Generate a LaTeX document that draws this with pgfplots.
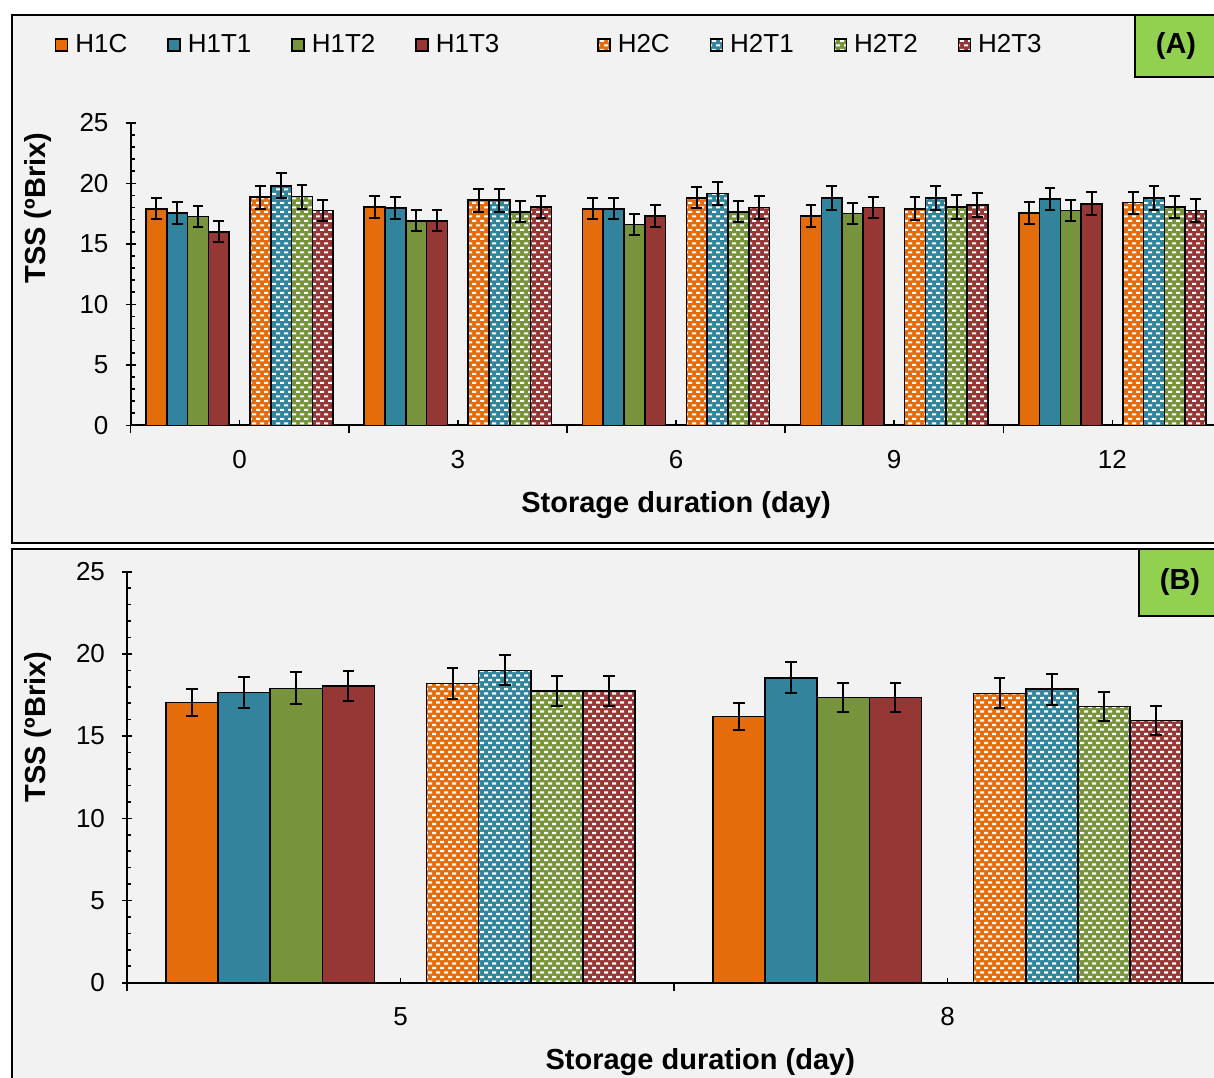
\documentclass[border=0pt]{standalone}
\usepackage{fontspec}
\setmainfont{Liberation Sans}
\usepackage{pgfplots}
\pgfplotsset{compat=1.18}
\usetikzlibrary{patterns}

\definecolor{cO}{HTML}{E46C0A}
\definecolor{cT}{HTML}{31849B}
\definecolor{cG}{HTML}{77933C}
\definecolor{cR}{HTML}{953735}
\definecolor{bg}{HTML}{F2F2F2}
\definecolor{lab}{HTML}{92D050}

\pgfdeclarepatternformonly{dashgrid}{\pgfqpoint{-0.1pt}{-0.1pt}}{\pgfqpoint{4.1pt}{4.6pt}}{\pgfqpoint{4pt}{4.5pt}}{%
  \pgfpathrectangle{\pgfqpoint{0pt}{0pt}}{\pgfqpoint{2.1pt}{1.1pt}}%
  \pgfpathrectangle{\pgfqpoint{2pt}{2.25pt}}{\pgfqpoint{2.1pt}{1.1pt}}%
  \pgfusepath{fill}}

\pgfplotsset{
  tss/.style={
    scale only axis, axis lines*=left,
    ymin=0, ymax=25, ytick={0,5,...,25}, minor y tick num=4,
    tick align=inside, major tick length=2.5pt, minor tick length=2pt,
    every tick/.style={black, line width=0.8pt},
    axis line style={black, line width=1pt},
    extra y ticks={0,5,...,25}, extra y tick labels={},
    extra y tick style={tick align=outside, major tick length=2.5pt},
    extra x tick labels={},
    extra x tick style={tick align=outside, major tick length=4pt},
    /pgf/number format/assume math mode=true,
    ticklabel style={font=\fontsize{13}{15}\selectfont},
    xticklabel style={yshift=-9pt},
    yticklabel style={xshift=-7.5pt},
    label style={font=\bfseries\fontsize{14.5}{17}\selectfont},
    bar width=0.0953,
    error bars/y dir=both, error bars/y explicit,
    error bars/error bar style={line width=1pt, black},
    error bars/error mark options={rotate=90, mark size=2.7pt, line width=1pt, black},
    legend image code/.code={\draw[#1, line width=0.7pt] (0pt,-3pt) rectangle (6pt,3pt);},
  },
  sb/.style={ybar, bar shift=0pt, draw=black, line width=0.8pt, fill=#1},
  pb/.style={ybar, bar shift=0pt, draw=black, line width=0.8pt, fill=#1,
    postaction={pattern=dashgrid, pattern color=white}},
}

\begin{document}
\begin{tikzpicture}
\fill[white] (0pt,0pt) rectangle (607pt,-538.5pt);
\begin{scope}
\clip (0pt,0pt) rectangle (607pt,-538.5pt);
\draw[line width=1.2pt, fill=bg] (6pt,-7.5pt) rectangle (625pt,-271.5pt);
\draw[line width=1.2pt, fill=bg] (6pt,-274.5pt) rectangle (625pt,-560pt);

% ---------------- Panel A ----------------
\begin{axis}[tss,
  at={(65.25pt,-212.65pt)}, anchor=south west,
  width=545.5pt, height=151.25pt,
  xmin=0, xmax=5,
  xtick={0.5,1.5,2.5,3.5,4.5}, xticklabels={0,3,6,9,12},
  extra x ticks={0,1,2,3,4,5},
  xlabel={Storage duration (day)},
  ylabel={TSS (ºBrix)},
  xlabel style={at={(rel axis cs:0.5,-0.264)}, anchor=center},
  ylabel style={at={(rel axis cs:-0.0848,0.718)}, anchor=center},
  legend columns=9,
  legend style={draw=none, fill=none, inner sep=0pt, outer sep=0pt,
    at={(rel axis cs:-0.0692,1.2572)}, anchor=west,
    font=\fontsize{13}{15}\selectfont,
    nodes={inner sep=1pt},
    /tikz/every odd column/.append style={column sep=2.5pt},
    /tikz/every even column/.append style={column sep=19pt}},
]
\addplot[sb=cO] coordinates {(0.1188,17.90) +- (0,0.88) (1.1188,18.05) +- (0,0.88) (2.1188,17.90) +- (0,0.85) (3.1188,17.30) +- (0,0.88) (4.1188,17.55) +- (0,0.88)};
\addlegendentry{H1C}
\addplot[sb=cT] coordinates {(0.2141,17.55) +- (0,0.88) (1.2141,17.95) +- (0,0.88) (2.2141,17.90) +- (0,0.86) (3.2141,18.80) +- (0,0.97) (4.2141,18.70) +- (0,0.94)};
\addlegendentry{H1T1}
\addplot[sb=cG] coordinates {(0.3094,17.25) +- (0,0.86) (1.3094,16.90) +- (0,0.86) (2.3094,16.60) +- (0,0.88) (3.3094,17.50) +- (0,0.90) (4.3094,17.75) +- (0,0.86)};
\addlegendentry{H1T2}
\addplot[sb=cR] coordinates {(0.4047,16.00) +- (0,0.88) (1.4047,16.90) +- (0,0.86) (2.4047,17.30) +- (0,0.88) (3.4047,18.00) +- (0,0.87) (4.4047,18.30) +- (0,0.95)};
\addlegendentry{H1T3}
\addlegendimage{empty legend}
\addlegendentry{\rule{5.5pt}{0pt}}
\addplot[pb=cO] coordinates {(0.5953,18.85) +- (0,0.95) (1.5953,18.60) +- (0,0.95) (2.5953,18.80) +- (0,0.86) (3.5953,17.90) +- (0,0.93) (4.5953,18.40) +- (0,0.90)};
\addlegendentry{H2C}
\addplot[pb=cT] coordinates {(0.6906,19.80) +- (0,1.05) (1.6906,18.60) +- (0,0.95) (2.6906,19.15) +- (0,0.93) (3.6906,18.80) +- (0,0.97) (4.6906,18.80) +- (0,0.97)};
\addlegendentry{H2T1}
\addplot[pb=cG] coordinates {(0.7859,18.90) +- (0,1.00) (1.7859,17.65) +- (0,0.88) (2.7859,17.65) +- (0,0.86) (3.7859,18.05) +- (0,0.98) (4.7859,18.05) +- (0,0.88)};
\addlegendentry{H2T2}
\addplot[pb=cR] coordinates {(0.8812,17.75) +- (0,0.88) (1.8812,18.05) +- (0,0.90) (2.8812,18.00) +- (0,0.93) (3.8812,18.20) +- (0,0.98) (4.8812,17.75) +- (0,0.95)};
\addlegendentry{H2T3}
\end{axis}

% ---------------- Panel B ----------------
\begin{axis}[tss,
  at={(63.5pt,-491.35pt)}, anchor=south west,
  width=547pt, height=205.5pt,
  xmin=0, xmax=2,
  xtick={0.5,1.5}, xticklabels={5,8},
  extra x ticks={0,1,2},
  xlabel={Storage duration (day)},
  ylabel={TSS (ºBrix)},
  xlabel style={at={(rel axis cs:0.524,-0.193)}, anchor=center},
  ylabel style={at={(rel axis cs:-0.0814,0.622)}, anchor=center},
  error bars/error mark options={rotate=90, mark size=2.9pt, line width=1pt, black},
]
\addplot[sb=cO] coordinates {(0.1188,17.05) +- (0,0.82) (1.1188,16.20) +- (0,0.80)};
\addplot[sb=cT] coordinates {(0.2141,17.65) +- (0,0.95) (1.2141,18.55) +- (0,0.93)};
\addplot[sb=cG] coordinates {(0.3094,17.90) +- (0,0.97) (1.3094,17.35) +- (0,0.87)};
\addplot[sb=cR] coordinates {(0.4047,18.05) +- (0,0.89) (1.4047,17.35) +- (0,0.86)};
\addplot[pb=cO] coordinates {(0.5953,18.20) +- (0,0.97) (1.5953,17.60) +- (0,0.91)};
\addplot[pb=cT] coordinates {(0.6906,19.00) +- (0,0.91) (1.6906,17.85) +- (0,0.93)};
\addplot[pb=cG] coordinates {(0.7859,17.75) +- (0,0.89) (1.7859,16.80) +- (0,0.87)};
\addplot[pb=cR] coordinates {(0.8812,17.75) +- (0,0.89) (1.8812,15.95) +- (0,0.87)};
\end{axis}

\draw[line width=1pt, fill=lab] (567.5pt,-7.5pt) rectangle (625pt,-38.5pt);
\node[font=\bfseries\fontsize{14.5}{17}\selectfont] at (588pt,-23pt) {(A)};
\draw[line width=1pt, fill=lab] (569.5pt,-274.5pt) rectangle (625pt,-308pt);
\node[font=\bfseries\fontsize{14.5}{17}\selectfont] at (590pt,-291pt) {(B)};
\end{scope}
\pgfresetboundingbox
\useasboundingbox (0pt,0pt) rectangle (607pt,-538.5pt);
\end{tikzpicture}
\end{document}
